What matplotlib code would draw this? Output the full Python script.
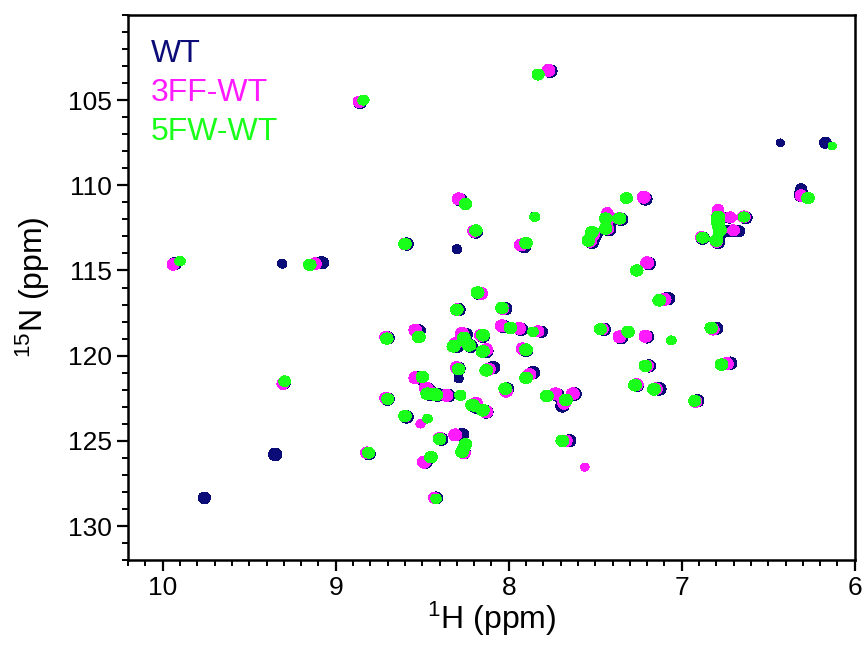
import numpy as np
import matplotlib
matplotlib.use('Agg')
import matplotlib.pyplot as plt
from matplotlib.ticker import MultipleLocator

plt.rcParams['font.family'] = ['Liberation Sans', 'DejaVu Sans']
plt.rcParams['mathtext.fontset'] = 'custom'
plt.rcParams['mathtext.rm'] = 'Liberation Sans'
plt.rcParams['mathtext.it'] = 'Liberation Sans:italic'

# peak lists: (1H ppm, 15N ppm, relative intensity)
wt_peaks = [
    (7.76, 103.3, 1.0), (8.86, 105.15, 0.8), (6.43, 107.5, 0.25), (6.17, 107.5, 0.6),
    (6.31, 110.6, 0.9), (6.31, 110.2, 0.45), (8.28, 110.85, 0.9), (7.21, 110.8, 0.9),
    (7.85, 111.85, 0.4), (8.19, 112.75, 0.9), (8.59, 113.45, 0.9), (8.30, 113.75, 0.35),
    (7.91, 113.6, 0.9), (7.52, 113.35, 0.9), (7.50, 112.9, 0.9), (7.42, 112.6, 0.9),
    (7.42, 112.0, 0.9), (7.35, 112.0, 0.9), (6.78, 111.9, 1.0), (6.77, 112.7, 1.0),
    (6.79, 113.35, 0.9), (6.88, 113.1, 0.9), (6.63, 111.9, 0.8), (6.67, 112.7, 0.6),
    (6.72, 111.9, 0.5), (6.72, 112.7, 0.5),
    (7.19, 114.6, 0.9), (9.93, 114.6, 0.8), (9.31, 114.6, 0.35), (9.08, 114.55, 0.9),
    (8.17, 116.35, 1.0), (7.08, 116.65, 1.0), (8.29, 117.3, 0.9), (8.02, 117.25, 0.9),
    (8.52, 118.55, 0.9), (8.70, 118.95, 0.9), (8.25, 118.75, 1.0), (8.15, 118.85, 1.0),
    (8.03, 118.3, 1.0), (7.93, 118.45, 1.0), (7.81, 118.6, 0.6), (7.45, 118.45, 0.9),
    (7.35, 118.95, 0.9), (7.20, 118.9, 0.9), (6.80, 118.4, 0.9), (8.30, 119.45, 0.9),
    (8.22, 119.45, 0.9), (8.13, 119.75, 1.0), (7.90, 119.7, 0.9), (8.29, 120.75, 0.9),
    (8.09, 120.7, 0.9), (8.52, 121.3, 0.9), (8.29, 121.35, 0.3), (7.86, 121.0, 0.9),
    (7.19, 120.6, 0.9), (6.72, 120.45, 1.0), (9.30, 121.6, 0.8), (8.46, 122.25, 1.0),
    (8.41, 122.3, 1.0), (8.35, 122.35, 1.0), (8.47, 121.95, 0.9), (8.70, 122.55, 0.9),
    (8.01, 121.95, 0.9), (8.19, 123.0, 1.0), (8.13, 123.3, 1.0), (7.62, 122.25, 1.0),
    (7.72, 122.3, 0.9), (7.69, 122.95, 0.9), (7.26, 121.75, 0.9), (7.13, 121.95, 1.0),
    (6.91, 122.65, 0.9), (8.59, 123.6, 0.9), (8.39, 124.9, 0.9), (8.27, 124.65, 1.0),
    (8.26, 125.7, 0.9), (8.48, 126.25, 0.9), (7.65, 125.0, 0.9), (9.35, 125.8, 1.0),
    (8.81, 125.75, 0.9), (9.76, 128.35, 0.7), (8.42, 128.35, 0.8),
]

ff_peaks = [
    (7.77, 103.25, 1.0), (8.865, 105.1, 0.8), (6.31, 110.6, 0.8), (8.29, 110.8, 1.0),
    (7.22, 110.7, 1.0), (8.20, 112.7, 1.0), (8.60, 113.45, 0.9), (7.93, 113.5, 1.0),
    (7.53, 113.3, 0.9), (7.51, 112.85, 0.9), (7.43, 112.55, 0.9), (7.43, 111.95, 0.9),
    (7.43, 111.6, 0.5), (7.36, 111.95, 0.9), (6.79, 111.85, 1.0), (6.78, 112.65, 1.0),
    (6.80, 113.3, 0.9), (6.885, 113.05, 0.8), (6.64, 111.85, 0.9), (6.72, 111.88, 0.7),
    (6.70, 112.65, 0.7), (6.79, 111.4, 0.5),
    (7.20, 114.55, 1.0), (9.94, 114.65, 0.8), (9.12, 114.6, 0.9), (8.16, 116.35, 1.0),
    (7.10, 116.7, 1.1), (8.30, 117.3, 0.9), (8.035, 117.25, 0.9), (8.54, 118.5, 1.0),
    (8.71, 118.92, 0.9), (8.27, 118.7, 1.0), (8.16, 118.8, 1.0), (8.04, 118.25, 1.0),
    (7.94, 118.4, 1.0), (7.83, 118.57, 0.7), (7.46, 118.45, 0.8), (7.36, 118.9, 1.0),
    (7.21, 118.86, 1.0), (6.82, 118.45, 0.9), (8.31, 119.3, 1.0), (8.23, 119.4, 0.9),
    (8.13, 119.65, 1.0), (7.92, 119.6, 1.0), (8.30, 120.7, 1.0), (8.115, 120.8, 1.0),
    (8.54, 121.3, 1.0), (7.88, 121.1, 0.9), (7.20, 120.6, 0.9), (6.74, 120.47, 1.1),
    (9.305, 121.65, 0.8), (8.48, 121.9, 1.0), (8.44, 122.25, 1.0), (8.36, 122.33, 1.0),
    (8.71, 122.5, 0.9), (8.015, 122.1, 0.9), (8.19, 122.8, 1.0), (8.13, 123.3, 1.1),
    (7.73, 122.24, 1.0), (7.63, 122.24, 1.0), (7.68, 122.8, 0.9), (7.26, 121.7, 1.0),
    (7.15, 121.95, 1.0), (6.92, 122.7, 0.9), (8.60, 123.55, 0.9), (8.51, 124.0, 0.35),
    (8.40, 124.85, 0.9), (8.31, 124.65, 1.0), (8.26, 125.7, 1.0), (8.49, 126.25, 1.1),
    (7.67, 125.0, 0.9), (8.82, 125.7, 0.9), (8.43, 128.35, 0.7), (7.56, 126.55, 0.3),
]

fw_peaks = [
    (7.83, 103.5, 0.8), (8.84, 105.0, 0.6), (6.13, 107.7, 0.3), (6.27, 110.75, 0.9),
    (8.25, 111.1, 0.9), (7.32, 110.75, 0.8), (7.85, 111.85, 0.45), (8.19, 112.65, 0.9),
    (8.60, 113.45, 0.9), (7.90, 113.4, 0.9), (7.54, 113.25, 0.9), (7.52, 112.75, 0.9),
    (7.44, 112.55, 0.9), (7.44, 111.95, 0.9), (7.36, 111.95, 0.9), (6.79, 111.85, 1.0),
    (6.78, 112.65, 1.0), (6.80, 113.25, 0.9), (6.88, 113.07, 0.8), (6.64, 111.86, 0.6),
    (6.79, 112.25, 0.8),
    (7.26, 115.0, 0.9), (9.90, 114.45, 0.5), (9.15, 114.67, 0.9), (8.18, 116.3, 1.0),
    (7.13, 116.75, 1.0), (8.30, 117.3, 0.9), (8.04, 117.2, 0.9), (8.52, 118.9, 1.0),
    (8.705, 119.0, 0.9), (8.26, 118.96, 1.0), (8.15, 118.8, 1.0), (7.99, 118.37, 1.0),
    (7.86, 118.6, 0.5), (7.47, 118.45, 0.8), (7.31, 118.6, 0.9), (7.06, 119.1, 0.4),
    (6.83, 118.37, 0.9), (8.32, 119.45, 1.0), (8.23, 119.4, 1.0), (8.15, 119.75, 1.1),
    (7.90, 119.65, 1.0), (8.29, 120.8, 0.9), (8.13, 120.86, 1.0), (8.50, 121.25, 0.9),
    (7.90, 121.3, 1.0), (7.21, 120.6, 1.0), (6.77, 120.53, 1.0), (9.295, 121.5, 0.7),
    (8.47, 122.24, 1.1), (8.42, 122.3, 1.1), (8.28, 122.33, 0.6), (8.70, 122.55, 0.8),
    (8.02, 121.94, 1.0), (8.21, 122.9, 1.1), (8.15, 123.2, 1.1), (7.78, 122.37, 1.0),
    (7.67, 122.6, 1.0), (7.27, 121.74, 1.0), (7.16, 121.98, 1.0), (6.925, 122.65, 0.8),
    (8.60, 123.55, 0.9), (8.47, 123.7, 0.4), (8.40, 124.9, 0.9), (8.25, 125.2, 0.9),
    (8.27, 125.65, 1.0), (8.45, 125.96, 1.0), (7.69, 125.0, 1.0), (8.81, 125.7, 0.8),
    (8.42, 128.4, 0.5),
]

labels = ['WT', '3FF-WT', '5FW-WT']
colors = ['#0c0c78', '#ff1aff', '#1aff1a']
n_ticks = [105, 110, 115, 120, 125, 130]


def spectrum(peaks, h, n, sx, sy):
    p = np.array(peaks)
    gx = np.exp(-0.5 * ((h[None, :] - p[:, 0:1]) / sx) ** 2)
    gy = np.exp(-0.5 * ((n[None, :] - p[:, 1:2]) / sy) ** 2) * p[:, 2:3]
    return gy.T @ gx


h = np.linspace(5.9, 10.3, 1400)
n = np.linspace(99, 133, 1000)

fig = plt.figure(figsize=(8.66, 6.49), dpi=100)
ax = fig.add_axes([0.148, 0.137, 0.839, 0.840])

widths = [(0.019, 0.18), (0.018, 0.17), (0.018, 0.165)]
for peaks, c, (sx, sy) in zip([wt_peaks, ff_peaks, fw_peaks], colors, widths):
    z = spectrum(peaks, h, n, sx, sy)
    ax.contourf(h, n, z, levels=[0.12, z.max() + 1], colors=[c])

ax.set_xlim(10.2, 6)
ax.set_ylim(132, 100)
ax.xaxis.set_major_locator(MultipleLocator(1))
ax.xaxis.set_minor_locator(MultipleLocator(0.1))
ax.set_yticks(n_ticks)
ax.yaxis.set_minor_locator(MultipleLocator(1))
ax.tick_params(which='major', direction='out', length=8, width=1.6, labelsize=19)
ax.tick_params(which='minor', direction='out', length=4, width=1.4)
for s in ax.spines.values():
    s.set_linewidth(1.8)

ax.set_xlabel(r'$^{1}$H (ppm)', fontsize=23, labelpad=0)
ax.set_ylabel(r'$^{15}$N (ppm)', fontsize=23, labelpad=12)

for i, (lab, c) in enumerate(zip(labels, colors)):
    ax.text(0.031, 0.914 - 0.0715 * i, lab, color=c, fontsize=23,
            transform=ax.transAxes, ha='left', va='baseline')

fig.savefig('out.png', dpi=100)
